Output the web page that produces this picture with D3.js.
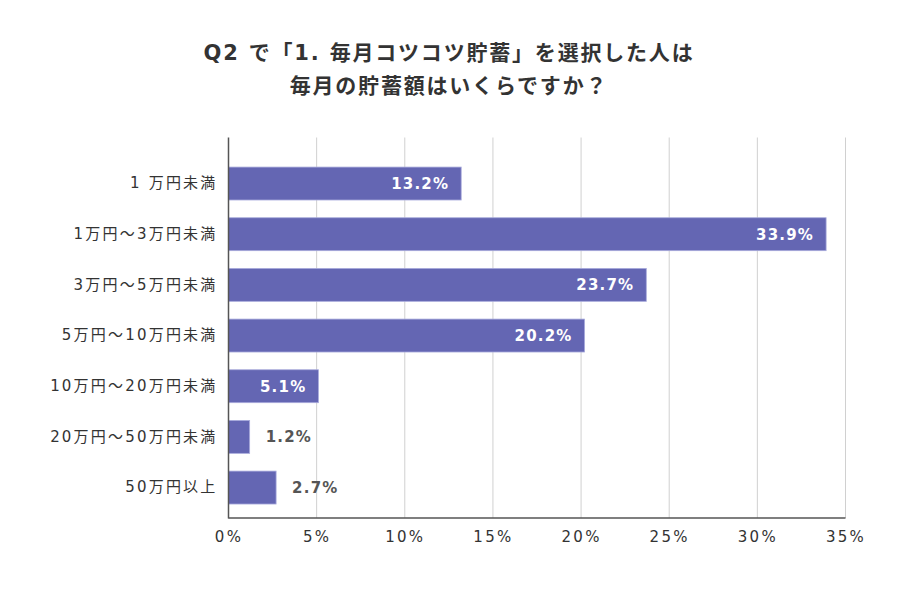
<!DOCTYPE html>
<html><head><meta charset="utf-8">
<script src="https://cdn.jsdelivr.net/npm/d3@7"></script>
<style>
html,body{margin:0;padding:0;background:#fff;}
text{font-family:"DejaVu Sans","Noto Sans CJK JP",sans-serif;}
</style></head>
<body><svg id="c" width="900" height="600"></svg>
<script>
const titleLines = ["Q2 で「1. 毎月コツコツ貯蓄」を選択した人は", "毎月の貯蓄額はいくらですか？"];
const categories = ["1 万円未満","1万円～3万円未満","3万円～5万円未満","5万円～10万円未満","10万円～20万円未満","20万円～50万円未満","50万円以上"];
const values = [13.2, 33.9, 23.7, 20.2, 5.1, 1.2, 2.7];
const tickValues = [0,5,10,15,20,25,30,35];

(function(){
const FONT = '"DejaVu Sans","Noto Sans CJK JP",sans-serif';
const svg = d3.select("#c");
const pLeft = 228.5, pRight = 845.5, pTop = 137.5, pBottom = 518;
const x = d3.scaleLinear().domain([0,35]).range([pLeft,pRight]);
const y = d3.scaleBand().domain(categories).range([158.2, 512.9]).paddingInner(0.35).paddingOuter(0.175);

svg.selectAll("text.title").data(titleLines).enter().append("text")
  .attr("x", 449).attr("y", (d,i)=>60 + i*33)
  .attr("text-anchor","middle").attr("font-size",21).attr("font-weight","bold")
  .attr("letter-spacing",1.8)
  .attr("fill","#333").text(d=>d);

// gridlines
svg.append("g").selectAll("line").data(tickValues.slice(1)).enter().append("line")
  .attr("x1",d=>x(d)).attr("x2",d=>x(d)).attr("y1",pTop).attr("y2",pBottom)
  .attr("stroke","#d0d0d0").attr("stroke-width",1);

// bars
svg.append("g").selectAll("rect").data(values).enter().append("rect")
  .attr("x", x(0)).attr("y",(d,i)=>y(categories[i]))
  .attr("width", d=>x(d)-x(0)).attr("height", y.bandwidth())
  .attr("fill","#6466b3").attr("stroke","#a9abdc").attr("stroke-width",0.8);

// value labels
svg.append("g").selectAll("text").data(values).enter().append("text")
  .attr("x", d=> d>=5 ? x(d)-12 : x(d)+16)
  .attr("y",(d,i)=>y(categories[i])+y.bandwidth()/2)
  .attr("dy","0.36em")
  .attr("text-anchor", d=> d>=5 ? "end" : "start")
  .attr("font-size",15).attr("font-weight","bold").attr("letter-spacing",1.2)
  .attr("fill", d=> d>=5 ? "#fff" : "#555")
  .text(d=>d.toFixed(1)+"%");

// axes
const yAxis = d3.axisLeft(y).tickSize(0).tickPadding(11);
const gy = svg.append("g").attr("transform",`translate(${pLeft},0)`).call(yAxis);
gy.select(".domain").remove();
gy.selectAll("text").attr("font-size",15).attr("fill","#333").attr("letter-spacing",2.2)
  .style("font-family",FONT);

const xAxis = d3.axisBottom(x).tickValues(tickValues).tickSize(0).tickPadding(13).tickFormat(d=>d+"%");
const gx = svg.append("g").attr("transform",`translate(0,${pBottom})`).call(xAxis);
gx.select(".domain").remove();
gx.selectAll("text").attr("font-size",15).attr("fill","#333").attr("letter-spacing",2.3)
  .style("font-family",FONT);

svg.append("line").attr("x1",pLeft).attr("x2",pLeft).attr("y1",pTop).attr("y2",pBottom+0.5)
  .attr("stroke","#555").attr("stroke-width",1.5);
svg.append("line").attr("x1",pLeft).attr("x2",pRight).attr("y1",pBottom).attr("y2",pBottom)
  .attr("stroke","#555").attr("stroke-width",1.5);
})();
</script></body></html>
